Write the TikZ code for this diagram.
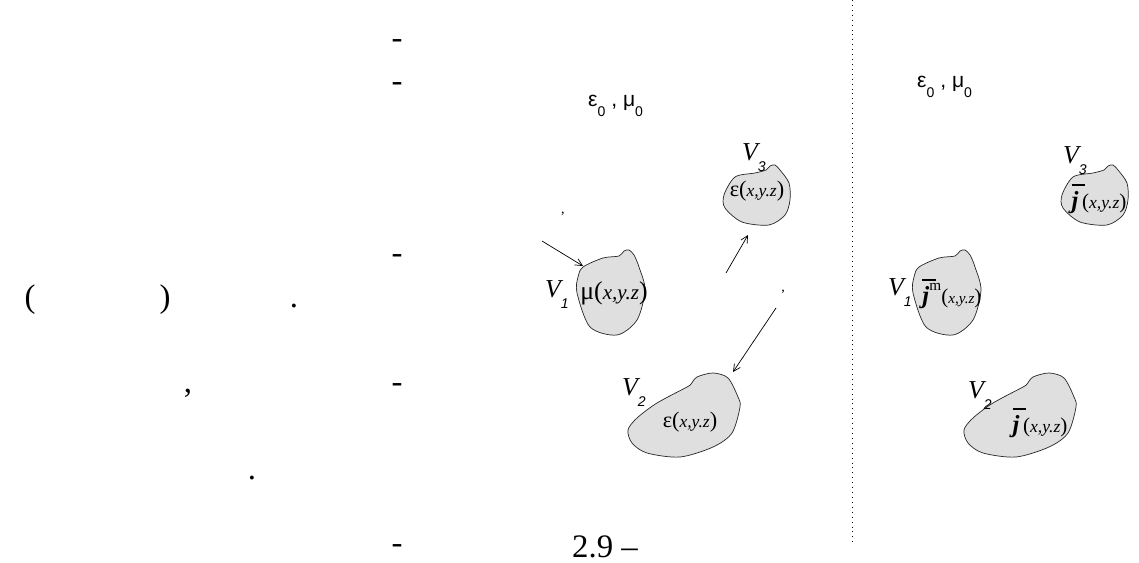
\documentclass[tikz,border=0pt]{standalone}
\usepackage{amsmath}
\usepackage{fontspec}
\setmainfont{Liberation Serif}
\newfontfamily\sansf{Liberation Sans}
\usetikzlibrary{arrows.meta}

\newcommand{\xyz}[1]{{\fontsize{#1}{#1}\selectfont\itshape x,y.z}}
\newcommand{\jvec}{{\fontsize{21}{21}\selectfont\rlap{\rule[0.92em]{0.55em}{0.05em}}\textbf{\textit{j}}}}
\newcommand{\vsub}[1]{\raisebox{-0.45em}{\sansf\fontsize{12}{12}\selectfont #1}}

\begin{document}
\begin{tikzpicture}[x=0.03cm,y=-0.03cm,
    blob/.style={draw=black!85, fill=gray!25, line width=0.6pt},
    txt/.style={font=\fontsize{28}{30}\selectfont, inner sep=0pt, anchor=base},
    lbl/.style={font=\fontsize{22}{22}\selectfont\itshape, inner sep=0pt, anchor=base west},
    med/.style={font=\sansf\fontsize{18}{18}\selectfont, inner sep=0pt, anchor=base west},
    arr/.style={-{Straight Barb[length=6pt,width=6pt]}, line width=0.6pt},
    blobone/.pic={\draw[blob] plot[smooth cycle] coordinates {(-28,-26) (-8,-35) (8,-37)
        (13,-42) (18,-43) (23,-38) (28,-26) (34,-3) (26,27) (6,42) (-21,34) (-34,0) (-33,-16)};},
    blobtwo/.pic={\draw[blob] plot[smooth cycle] coordinates {(-56,15) (-47,3) (-27,-12) (3,-28)
        (7,-31) (13,-38) (29,-42) (44,-37) (54,-18) (56,-8) (48,18) (29,32) (-4,42) (-37,38) (-52,28)};},
    blobthree/.pic={\draw[blob] plot[smooth cycle] coordinates {(-33,-2) (-22,-20) (-2,-24) (9,-27)
        (13,-31) (18,-32) (23,-27) (32,-14) (33,3) (28,18) (12,28) (-15,25) (-32,11)};}]
    \useasboundingbox (0,0) rectangle (1139,563);

    % text column on the left
    \node[txt] (lpar) at (30,307) {(};
    \node[txt] (rpar) at (165,307) {)};
    \node[txt] (dotA) at (294,307) {.};
    \node[txt] (comA) at (188,392) {,};
    \node[txt] (dotB) at (252,479) {.};
    \foreach \yy [count=\i] in {41,84,255,384,545}
        \node[txt] (dash\i) at (397,\yy+8) {-};
    \node[txt, anchor=base west] (caption) at (572,557) {2.9 --};

    % separator
    \coordinate (sepT) at (852,0);
    \coordinate (sepB) at (852,545);
    \draw[line width=0.8pt, dash pattern=on 0.8pt off 3.4pt] (sepT) -- (sepB);

    % left half: material bodies
    \node[med] (envL) at (588,107) {ε\vsub{0} , μ\vsub{0}};
    \pic at (611,293) {blobone};
    \pic at (684,415) {blobtwo};
    \pic at (757,197) {blobthree};
    \node[font=\fontsize{22}{22}\selectfont, inner sep=0pt] (muOne) at (614,293) {μ(\xyz{18})};
    \node[font=\fontsize{19}{19}\selectfont, inner sep=0pt] (epsTwo) at (690,422) {ε(\xyz{15})};
    \node[font=\fontsize{19}{19}\selectfont, inner sep=0pt] (epsThree) at (757,191) {ε(\xyz{15})};
    \node[lbl] (vOneL) at (545,297) {V\vsub{1}};
    \node[lbl] (vTwoL) at (622,395) {V\vsub{2}};
    \node[lbl] (vThreeL) at (742,160) {V\vsub{3}};
    \node[font=\fontsize{12}{12}\selectfont, inner sep=0pt, anchor=base] (comB) at (563,213) {,};
    \node[font=\fontsize{12}{12}\selectfont, inner sep=0pt, anchor=base] (comC) at (783,291) {,};

    % incident field arrows
    \coordinate (inA) at (542,241);
    \coordinate (hitA) at (583,266);
    \coordinate (inB) at (726,273);
    \coordinate (hitB) at (748,235);
    \coordinate (inC) at (776,308);
    \coordinate (hitC) at (733,372);
    \draw[arr] (inA) -- (hitA);
    \draw[arr] (inB) -- (hitB);
    \draw[arr] (inC) -- (hitC);

    % right half: equivalent currents
    \node[med] (envR) at (917,88) {ε\vsub{0} , μ\vsub{0}};
    \pic at (947,293) {blobone};
    \pic at (1020,415) {blobtwo};
    \pic at (1095,197) {blobthree};
    \node[font=\fontsize{18}{18}\selectfont, inner sep=0pt] (jOne) at (952,294)
        {\jvec\raisebox{0.6em}{\fontsize{13}{13}\selectfont m}(\xyz{13})};
    \node[font=\fontsize{18}{18}\selectfont, inner sep=0pt] (jTwo) at (1040,423) {\jvec\,(\xyz{15})};
    \node[font=\fontsize{18}{18}\selectfont, inner sep=0pt] (jThree) at (1099,199) {\jvec\,(\xyz{15})};
    \node[lbl] (vOneR) at (888,295) {V\vsub{1}};
    \node[lbl] (vTwoR) at (968,398) {V\vsub{2}};
    \node[lbl] (vThreeR) at (1063,163) {V\vsub{3}};
\end{tikzpicture}
\end{document}
